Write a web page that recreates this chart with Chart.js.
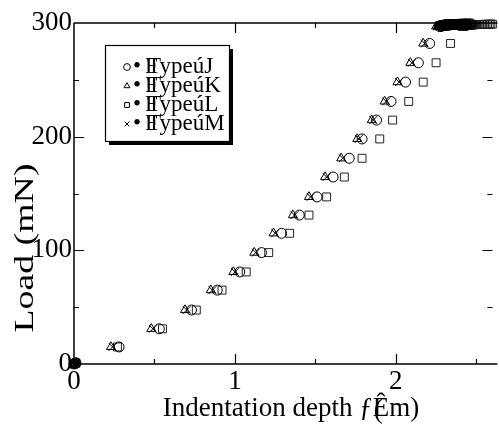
<!DOCTYPE html>
<html><head><meta charset="utf-8">
<script src="https://cdn.jsdelivr.net/npm/chart.js@4/dist/chart.umd.min.js"></script>
<style>html,body{margin:0;padding:0;background:#fff;overflow:hidden}</style>
</head><body><canvas id="c" width="499" height="431"></canvas>
<script>
// ---- data ----
const legendLabels = ['\u2022FTypeúJ', '\u2022FTypeúK', '\u2022FTypeúL', '\u2022FTypeúM'];
const xTickLabels = ['0', '1', '2'];
const yTickLabels = ['0', '100', '200', '300'];
const xTitleParts = ['Indentation depth \u0192', '(', 'Êm)'];
const yTitle = 'Load (mN)';

// loading branch
const loadJ = [0, 0.3, 0.6, 1, 15, 31, 47.5, 65, 81, 98, 115, 131, 147, 164.5, 181, 198, 214.6, 231, 248, 265, 282, 297];
const depthJ = [0, 0.004, 0.008, 0.012, 0.28, 0.53, 0.73, 0.89, 1.03, 1.165, 1.29, 1.40, 1.51, 1.61, 1.71, 1.79, 1.88, 1.97, 2.06, 2.14, 2.21, 2.27];
const loadK = [0, 0.3, 0.6, 1, 15, 31, 47.5, 65, 81, 98, 115, 131, 147, 164.5, 181, 198, 214.6, 231, 248, 265, 282, 297];
const depthK = [0, 0.004, 0.008, 0.012, 0.23, 0.48, 0.69, 0.85, 0.99, 1.12, 1.24, 1.36, 1.46, 1.56, 1.66, 1.76, 1.85, 1.93, 2.01, 2.09, 2.17, 2.25];
const loadL = [0, 0.3, 0.6, 1, 15, 31, 47.5, 65, 81, 98, 115, 131, 147, 164.5, 181, 198, 214.6, 231, 248, 265, 282, 297];
const depthL = [0, 0.004, 0.008, 0.012, 0.27, 0.55, 0.76, 0.92, 1.07, 1.21, 1.34, 1.46, 1.57, 1.68, 1.79, 1.90, 1.98, 2.08, 2.17, 2.25, 2.34, 2.41];
const loadM = [0, 0.3, 0.6, 1, 15, 31, 47.5, 65, 81, 98, 115, 131, 147, 164.5, 181, 198, 214.6, 231, 248, 265, 282, 297];
const depthM = [0, 0.004, 0.008, 0.012, 0.24, 0.49, 0.70, 0.86, 1.00, 1.13, 1.25, 1.37, 1.47, 1.57, 1.67, 1.77, 1.86, 1.94, 2.02, 2.10, 2.18, 2.26];

// holding at peak load
const holdDepthJ = [2.28, 2.283, 2.286, 2.289, 2.292, 2.295, 2.298, 2.301, 2.304, 2.307, 2.31, 2.313, 2.316, 2.319, 2.322, 2.325, 2.328, 2.331, 2.334, 2.337, 2.34, 2.344, 2.348, 2.352, 2.356, 2.36, 2.364, 2.368, 2.372, 2.376, 2.38, 2.385, 2.39, 2.395, 2.40, 2.405, 2.41, 2.415, 2.42, 2.425, 2.43, 2.435, 2.44, 2.45, 2.46, 2.47];
const holdLoadJ = [297.0, 297.2, 297.4, 297.6, 297.7, 297.8, 297.9, 298.0, 298.0, 298.1, 298.1, 298.2, 298.2, 298.3, 298.3, 298.3, 298.4, 298.4, 298.4, 298.5, 298.5, 298.5, 298.6, 298.6, 298.6, 298.6, 298.7, 298.7, 298.7, 298.7, 298.8, 298.8, 298.8, 298.8, 298.9, 298.9, 298.9, 298.9, 299.0, 299.0, 299.0, 299.0, 299.1, 299.1, 299.1, 299.2];
const holdDepthK = [2.26, 2.263, 2.266, 2.269, 2.272, 2.275, 2.278, 2.281, 2.284, 2.287, 2.29, 2.293, 2.296, 2.299, 2.302, 2.305, 2.308, 2.311, 2.314, 2.317, 2.32, 2.324, 2.328, 2.332, 2.336, 2.34, 2.345, 2.35, 2.355, 2.36, 2.365, 2.37, 2.375, 2.38, 2.39, 2.40, 2.41, 2.42, 2.43];
const holdLoadK = [297.0, 297.2, 297.4, 297.6, 297.7, 297.8, 297.9, 298.0, 298.0, 298.1, 298.1, 298.2, 298.2, 298.3, 298.3, 298.3, 298.4, 298.4, 298.4, 298.5, 298.5, 298.5, 298.6, 298.6, 298.6, 298.7, 298.7, 298.7, 298.8, 298.8, 298.8, 298.9, 298.9, 298.9, 299.0, 299.0, 299.0, 299.1, 299.1];
const holdDepthL = [2.42, 2.423, 2.426, 2.429, 2.432, 2.435, 2.438, 2.441, 2.444, 2.447, 2.45, 2.453, 2.456, 2.459, 2.462, 2.465, 2.468, 2.471, 2.474, 2.477, 2.48, 2.485, 2.49, 2.495, 2.50, 2.51, 2.52, 2.53, 2.54, 2.55, 2.56, 2.57, 2.58, 2.59, 2.60];
const holdLoadL = [297.0, 297.2, 297.4, 297.6, 297.7, 297.8, 297.9, 298.0, 298.0, 298.1, 298.1, 298.2, 298.2, 298.3, 298.3, 298.3, 298.4, 298.4, 298.4, 298.5, 298.5, 298.5, 298.6, 298.6, 298.6, 298.7, 298.7, 298.7, 298.8, 298.8, 298.8, 298.9, 298.9, 299.0, 299.0];
const holdDepthM = [2.27, 2.273, 2.276, 2.279, 2.282, 2.285, 2.288, 2.291, 2.294, 2.297, 2.30, 2.303, 2.306, 2.309, 2.312, 2.315, 2.318, 2.321, 2.324, 2.327, 2.33, 2.334, 2.338, 2.342, 2.346, 2.35, 2.355, 2.36, 2.365, 2.37, 2.375, 2.38, 2.385, 2.39, 2.40, 2.41, 2.42, 2.43, 2.44];
const holdLoadM = [297.0, 297.2, 297.4, 297.6, 297.7, 297.8, 297.9, 298.0, 298.0, 298.1, 298.1, 298.2, 298.2, 298.3, 298.3, 298.3, 298.4, 298.4, 298.4, 298.5, 298.5, 298.5, 298.6, 298.6, 298.6, 298.7, 298.7, 298.7, 298.8, 298.8, 298.8, 298.9, 298.9, 298.9, 299.0, 299.0, 299.0, 299.1, 299.1];

const xMajor = [0, 1, 2];
const xMinor = [0.5, 1.5, 2.5];
const yMajor = [0, 100, 200, 300];
const yMinor = [50, 150, 250];

function pts(xs, ys) { return xs.map((x, i) => ({x: x, y: ys[i]})); }

const FONT = "'Liberation Serif', 'DejaVu Serif', serif";

const frame = {
  id: 'frame',
  afterDatasetsDraw(chart) {
    const ctx = chart.ctx, a = chart.chartArea;
    const xs = chart.scales.x, ys = chart.scales.y;
    ctx.save();
    ctx.strokeStyle = '#000';
    ctx.lineWidth = 1.5;
    ctx.beginPath();
    ctx.moveTo(a.left, a.top); ctx.lineTo(a.left, a.bottom);
    ctx.moveTo(a.left, a.bottom); ctx.lineTo(a.right + 5, a.bottom);
    ctx.moveTo(a.left, a.top); ctx.lineTo(a.right + 5, a.top);
    ctx.stroke();
    ctx.lineWidth = 1.2;
    ctx.beginPath();
    const tick = (vals, len) => {
      vals.forEach(v => {
        const px = Math.round(xs.getPixelForValue(v)) + 0.5;
        ctx.moveTo(px, a.bottom); ctx.lineTo(px, a.bottom - len);
        ctx.moveTo(px, a.top); ctx.lineTo(px, a.top + len);
      });
    };
    tick(xMajor.slice(1), 10); tick(xMinor, 5);
    const ytick = (vals, len) => {
      vals.forEach(v => {
        const py = Math.round(ys.getPixelForValue(v)) + 0.5;
        ctx.moveTo(a.left, py); ctx.lineTo(a.left + len, py);
        ctx.moveTo(a.right, py); ctx.lineTo(a.right - len, py);
      });
    };
    ytick(yMajor.slice(1, 3), 10); ytick(yMinor, 5);
    ctx.stroke();

    // axis titles
    ctx.fillStyle = '#000';
    ctx.font = '27px ' + FONT;
    ctx.textBaseline = 'middle';
    ctx.textAlign = 'left';
    const w0 = ctx.measureText(xTitleParts[0]).width;
    const w2 = ctx.measureText(xTitleParts[2]).width;
    let tx = 291 - (w0 + w2) / 2;
    ctx.fillText(xTitleParts[0], tx, 409);
    ctx.fillText(xTitleParts[1], tx + w0 + 1, 411);
    ctx.fillText(xTitleParts[2], tx + w0, 409);

    ctx.save();
    ctx.translate(26, 248);
    ctx.rotate(-Math.PI / 2);
    ctx.scale(1.4, 1);
    ctx.font = '27px ' + FONT;
    ctx.textAlign = 'center';
    ctx.fillText(yTitle, 0, 0);
    ctx.restore();

    // legend
    const bx = 105, by = 45, bw = 124, bh = 96;
    ctx.fillStyle = '#000';
    ctx.fillRect(bx + 4, by + 4, bw, bh);
    ctx.fillStyle = '#fff';
    ctx.fillRect(bx, by, bw, bh);
    ctx.lineWidth = 1.2;
    ctx.strokeStyle = '#000';
    ctx.strokeRect(bx + 0.5, by + 0.5, bw, bh);
    const rows = [66, 85, 104, 123];
    chart.data.datasets.forEach((ds, i) => {
      const y = rows[i];
      ctx.lineWidth = 1;
      ctx.strokeStyle = '#000';
      ctx.fillStyle = 'rgba(0,0,0,0)';
      Chart.helpers.drawPoint(ctx, {pointStyle: ds.pointStyle, radius: 3.4, rotation: 0, borderWidth: 1}, 127, y + 1);
      ctx.fillStyle = '#000';
      ctx.font = '23px ' + FONT;
      ctx.textBaseline = 'alphabetic';
      ctx.textAlign = 'left';
      const lab = legendLabels[i];
      ctx.fillText(lab[0], 133, y + 7);
      ctx.fillText(lab[1], 145, y + 7);
      ctx.fillText(lab.slice(2), 147, y + 7);
    });
    ctx.restore();
  }
};

const common = {showLine: false, borderColor: '#000', backgroundColor: 'rgba(0,0,0,0)', borderWidth: 1, clip: false};

new Chart(document.getElementById('c'), {
  type: 'scatter',
  data: {
    datasets: [
      Object.assign({label: legendLabels[0], data: pts(depthJ.concat(holdDepthJ), loadJ.concat(holdLoadJ)), pointStyle: 'circle', pointRadius: 5}, common),
      Object.assign({label: legendLabels[1], data: pts(depthK.concat(holdDepthK), loadK.concat(holdLoadK)), pointStyle: 'triangle', pointRadius: 5.2}, common),
      Object.assign({label: legendLabels[2], data: pts(depthL.concat(holdDepthL), loadL.concat(holdLoadL)), pointStyle: 'rect', pointRadius: 5.6}, common, {borderColor: '#222'}),
      Object.assign({label: legendLabels[3], data: pts(depthM.concat(holdDepthM), loadM.concat(holdLoadM)), pointStyle: 'crossRot', pointRadius: 5.5}, common)
    ]
  },
  options: {
    responsive: false,
    animation: false,
    devicePixelRatio: 1,
    layout: {padding: {top: 23, right: 0, left: 0, bottom: 0}},
    plugins: {legend: {display: false}, tooltip: {enabled: false}},
    scales: {
      x: {
        type: 'linear', min: 0, max: 2.6,
        afterFit(s) { s.height = 67; },
        afterBuildTicks(s) { s.ticks = xMajor.map(v => ({value: v})); },
        grid: {display: false, drawTicks: false},
        border: {display: false},
        ticks: {color: '#000', font: {family: FONT, size: 27}, padding: 2, maxRotation: 0,
          callback: (v, i) => xTickLabels[i]},
        title: {display: false}
      },
      y: {
        type: 'linear', min: 0, max: 300,
        afterFit(s) { s.width = 74; },
        afterBuildTicks(s) { s.ticks = yMajor.map(v => ({value: v})); },
        grid: {display: false, drawTicks: false},
        border: {display: false},
        ticks: {color: '#000', font: {family: FONT, size: 27}, padding: 2,
          callback: (v, i) => yTickLabels[i]},
        title: {display: false}
      }
    }
  },
  plugins: [frame]
});
</script>
</body></html>
